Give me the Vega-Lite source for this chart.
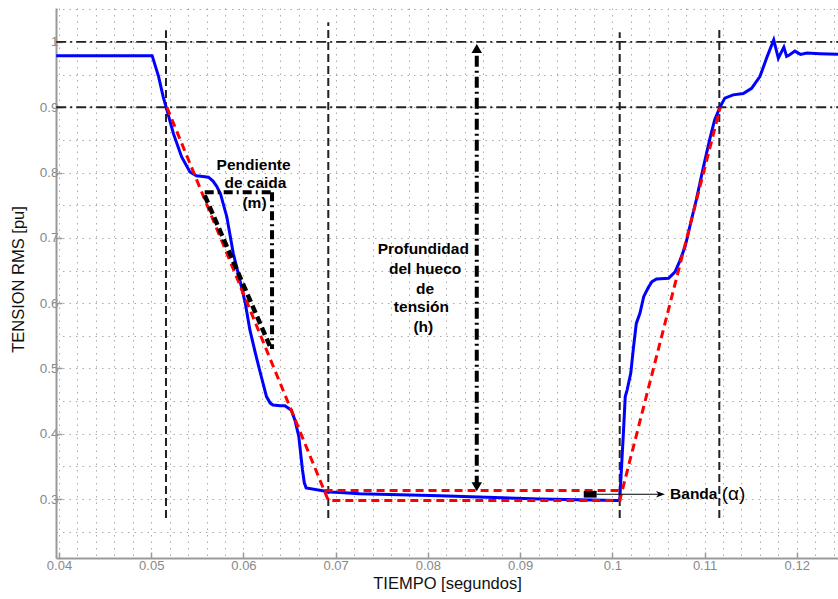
{
  "$schema": "https://vega.github.io/schema/vega-lite/v6.json",
  "autosize": {"type": "none"},
  "padding": {"left": 56, "top": 8, "right": 0, "bottom": 41},
  "width": 782,
  "height": 550,
  "background": "white",
  "config": {"view": {"stroke": null}, "font": "Liberation Sans"},
  "datasets": {
    "blue": [
      {"t":0.0397,"v":0.979},{"t":0.0501,"v":0.979},{"t":0.0508,"v":0.947},{"t":0.0513,"v":0.916},{"t":0.0517,"v":0.896},
      {"t":0.0524,"v":0.860},{"t":0.0533,"v":0.824},{"t":0.0542,"v":0.801},{"t":0.0549,"v":0.795},{"t":0.0556,"v":0.794},
      {"t":0.0562,"v":0.793},{"t":0.0567,"v":0.787},{"t":0.0571,"v":0.779},{"t":0.0575,"v":0.768},{"t":0.0582,"v":0.732},
      {"t":0.0589,"v":0.676},{"t":0.0596,"v":0.636},{"t":0.0602,"v":0.600},{"t":0.0607,"v":0.559},{"t":0.0613,"v":0.523},
      {"t":0.0618,"v":0.495},{"t":0.0625,"v":0.457},{"t":0.0629,"v":0.447},{"t":0.0632,"v":0.444},{"t":0.0640,"v":0.443},
      {"t":0.0645,"v":0.443},{"t":0.0652,"v":0.436},{"t":0.0656,"v":0.420},{"t":0.0660,"v":0.396},{"t":0.0664,"v":0.345},
      {"t":0.0666,"v":0.325},{"t":0.0668,"v":0.317},{"t":0.0694,"v":0.311},{"t":0.0705,"v":0.310},{"t":0.0726,"v":0.308},
      {"t":0.0813,"v":0.305},{"t":0.0922,"v":0.300},{"t":0.1005,"v":0.298},{"t":0.1008,"v":0.298},{"t":0.1010,"v":0.350},
      {"t":0.1012,"v":0.401},{"t":0.1014,"v":0.457},{"t":0.1016,"v":0.467},{"t":0.1020,"v":0.493},{"t":0.1023,"v":0.533},
      {"t":0.1026,"v":0.569},{"t":0.1030,"v":0.585},{"t":0.1034,"v":0.610},{"t":0.1039,"v":0.624},{"t":0.1043,"v":0.633},
      {"t":0.1048,"v":0.637},{"t":0.1061,"v":0.638},{"t":0.1068,"v":0.648},{"t":0.1073,"v":0.664},{"t":0.1079,"v":0.687},
      {"t":0.1084,"v":0.717},{"t":0.1091,"v":0.758},{"t":0.1099,"v":0.810},{"t":0.1106,"v":0.853},{"t":0.1111,"v":0.881},
      {"t":0.1117,"v":0.901},{"t":0.1122,"v":0.914},{"t":0.1131,"v":0.919},{"t":0.1142,"v":0.921},{"t":0.1151,"v":0.929},
      {"t":0.1160,"v":0.947},{"t":0.1168,"v":0.978},{"t":0.1175,"v":1.003},{"t":0.1180,"v":0.975},{"t":0.1186,"v":0.992},
      {"t":0.1189,"v":0.978},{"t":0.1192,"v":0.980},{"t":0.1198,"v":0.986},{"t":0.1204,"v":0.981},{"t":0.1211,"v":0.983},
      {"t":0.1225,"v":0.982},{"t":0.1246,"v":0.981}
    ],
    "red": [
      {"seg":"a","o":1,"t":0.0517,"v":0.900},{"seg":"a","o":2,"t":0.0692,"v":0.298},{"seg":"a","o":3,"t":0.1008,"v":0.298},{"seg":"a","o":4,"t":0.1117,"v":0.900},
      {"seg":"b","o":1,"t":0.0688,"v":0.313},{"seg":"b","o":2,"t":0.1008,"v":0.313}
    ],
    "hlines": [
      {"seg":"h1","t":0.0397,"v":1.0},{"seg":"h1","t":0.1246,"v":1.0},
      {"seg":"h2","t":0.0397,"v":0.9},{"seg":"h2","t":0.1246,"v":0.9}
    ],
    "vlines": [
      {"seg":"v1","t":0.0516,"v":0.271},{"seg":"v1","t":0.0516,"v":1.018},
      {"seg":"v2","t":0.0692,"v":0.271},{"seg":"v2","t":0.0692,"v":1.03},
      {"seg":"v3","t":0.1008,"v":0.271},{"seg":"v3","t":0.1008,"v":1.015},
      {"seg":"v4","t":0.1116,"v":0.271},{"seg":"v4","t":0.1116,"v":1.022}
    ],
    "slope": [
      {"seg":"d","t":0.0558,"v":0.765},{"seg":"d","t":0.0630,"v":0.530}
    ],
    "slopebox": [
      {"seg":"h","o":1,"t":0.0558,"v":0.770},{"seg":"h","o":2,"t":0.0631,"v":0.770},
      {"seg":"w","o":1,"t":0.0631,"v":0.770},{"seg":"w","o":2,"t":0.0631,"v":0.530}
    ],
    "depth": [
      {"t":0.0853,"v":0.319},{"t":0.0853,"v":0.990}
    ],
    "heads": [
      {"t":0.0853,"v":0.990,"dir":"up"},{"t":0.0853,"v":0.319,"dir":"down"}
    ],
    "band": [{"t":0.0969,"t2":0.0983,"v":0.3023,"v2":0.3125}],
    "bandarrow": [{"t":0.0983,"v":0.3074},{"t":0.1053,"v":0.3074}],
    "bandhead": [{"t":0.10522,"v":0.3074}],
    "labels": [
      {"label":"Pendiente","t":0.0611,"v":0.8116},
      {"label":"de caida","t":0.0613,"v":0.7836},
      {"label":"(m)","t":0.0612,"v":0.753},
      {"label":"Profundidad","t":0.0795,"v":0.6825},
      {"label":"del hueco","t":0.0797,"v":0.652},
      {"label":"de","t":0.0797,"v":0.6213},
      {"label":"tensión","t":0.0793,"v":0.5937},
      {"label":"(h)","t":0.0795,"v":0.564}
    ],
    "banda": [{"label":"Banda","t":0.10626,"v":0.3078}],
    "alpha": [{"label":"(α)","t":0.11186,"v":0.3078}]
  },
  "encoding": {
    "x": {
      "field": "t", "type": "quantitative",
      "scale": {"domain": [0.039675, 0.12447], "nice": false, "zero": false},
      "axis": {
        "title": "TIEMPO [segundos]",
        "values": [0.04,0.042,0.044,0.046,0.048,0.05,0.052,0.054,0.056,0.058,0.06,0.062,0.064,0.066,0.068,0.07,0.072,0.074,0.076,0.078,0.08,0.082,0.084,0.086,0.088,0.09,0.092,0.094,0.096,0.098,0.1,0.102,0.104,0.106,0.108,0.11,0.112,0.114,0.116,0.118,0.12,0.122,0.124],
        "labelExpr": "round(datum.value*1000)%10==0 ? format(datum.value,'~g') : ''",
        "grid": true, "gridDash": [1.5, 5], "gridColor": "#aaa", "gridWidth": 1,
        "domainColor": "#999", "domainWidth": 2,
        "tickColor": "#999", "tickWidth": 1.5, "tickSize": -6,
        "tickOpacity": {"condition": {"test": "round(datum.value*1000)%10==0", "value": 1}, "value": 0},
        "labelColor": "#888", "labelFontSize": 13, "labelFont": "Liberation Sans", "labelPadding": 7,
        "labelFlush": false, "labelOverlap": false,
        "titleColor": "#111", "titleFontSize": 16.5, "titleFontWeight": "normal", "titleFont": "Liberation Sans",
        "titleX": 391, "titleY": 25, "titleBaseline": "middle", "titleAlign": "center"
      }
    },
    "y": {
      "field": "v", "type": "quantitative",
      "scale": {"domain": [0.2098, 1.052], "nice": false, "zero": false},
      "axis": {
        "title": "TENSION RMS [pu]",
        "values": [0.25,0.3,0.35,0.4,0.45,0.5,0.55,0.6,0.65,0.7,0.75,0.8,0.85,0.9,0.95,1.0,1.05],
        "labelExpr": "round(datum.value*100)%10==0 ? format(datum.value,'~g') : ''",
        "grid": true, "gridDash": [1.5, 5], "gridColor": "#aaa", "gridWidth": 1,
        "domainColor": "#999", "domainWidth": 2,
        "tickColor": "#999", "tickWidth": 1.5, "tickSize": -6,
        "tickOpacity": {"condition": {"test": "round(datum.value*100)%10==0", "value": 1}, "value": 0},
        "labelColor": "#888", "labelFontSize": 13.5, "labelFont": "Liberation Sans", "labelPadding": 4,
        "labelFlush": false, "labelOverlap": false,
        "titleColor": "#111", "titleFontSize": 16.5, "titleFontWeight": "normal", "titleFont": "Liberation Sans",
        "titleX": -38, "titleY": 271, "titleAngle": -90, "titleBaseline": "middle", "titleAlign": "center"
      }
    }
  },
  "layer": [
    {"data": {"name": "hlines"}, "mark": {"type": "line", "color": "#222", "strokeWidth": 1.8, "strokeDash": [10, 4, 2, 4]}, "encoding": {"detail": {"field": "seg"}}},
    {"data": {"name": "vlines"}, "mark": {"type": "line", "color": "#222", "strokeWidth": 2, "strokeDash": [8, 4]}, "encoding": {"detail": {"field": "seg"}}},
    {"data": {"name": "blue"}, "mark": {"type": "line", "color": "#0000ff", "strokeWidth": 3}, "encoding": {}},
    {"data": {"name": "red"}, "mark": {"type": "line", "color": "#ff0000", "strokeWidth": 3, "strokeDash": [8, 5]}, "encoding": {"detail": {"field": "seg"}, "order": {"field": "o"}}},
    {"data": {"name": "slope"}, "mark": {"type": "line", "color": "#000", "strokeWidth": 4.5, "strokeDash": [8, 4]}, "encoding": {"detail": {"field": "seg"}}},
    {"data": {"name": "slopebox"}, "mark": {"type": "line", "color": "#000", "strokeWidth": 4, "strokeDash": [9, 4, 2, 4]}, "encoding": {"detail": {"field": "seg"}, "order": {"field": "o"}}},
    {"data": {"name": "depth"}, "mark": {"type": "line", "color": "#000", "strokeWidth": 4, "strokeDash": [11, 4, 2, 4]}, "encoding": {}},
    {"data": {"name": "heads"}, "mark": {"type": "point", "filled": true, "color": "#000", "opacity": 1, "size": 110}, "encoding": {"shape": {"field": "dir", "type": "nominal", "scale": {"domain": ["up", "down"], "range": ["triangle-up", "triangle-down"]}, "legend": null}}},
    {"data": {"name": "band"}, "mark": {"type": "rect", "color": "#000"}, "encoding": {"x2": {"field": "t2"}, "y2": {"field": "v2"}}},
    {"data": {"name": "bandarrow"}, "mark": {"type": "line", "color": "#000", "strokeWidth": 1}, "encoding": {}},
    {"data": {"name": "bandhead"}, "mark": {"type": "point", "filled": true, "color": "#000", "opacity": 1, "size": 80, "shape": "M1,0L-1,-0.75L-0.45,0L-1,0.75Z"}, "encoding": {}},
    {"data": {"name": "labels"}, "mark": {"type": "text", "font": "Liberation Sans", "fontWeight": "bold", "fontSize": 15.5, "align": "center", "baseline": "middle", "color": "#000"}, "encoding": {"text": {"field": "label"}}},
    {"data": {"name": "banda"}, "mark": {"type": "text", "font": "Liberation Sans", "fontWeight": "bold", "fontSize": 15.5, "align": "left", "baseline": "middle", "color": "#000"}, "encoding": {"text": {"field": "label"}}},
    {"data": {"name": "alpha"}, "mark": {"type": "text", "font": "Liberation Sans", "fontSize": 19, "align": "left", "baseline": "middle", "color": "#000"}, "encoding": {"text": {"field": "label"}}}
  ]
}
